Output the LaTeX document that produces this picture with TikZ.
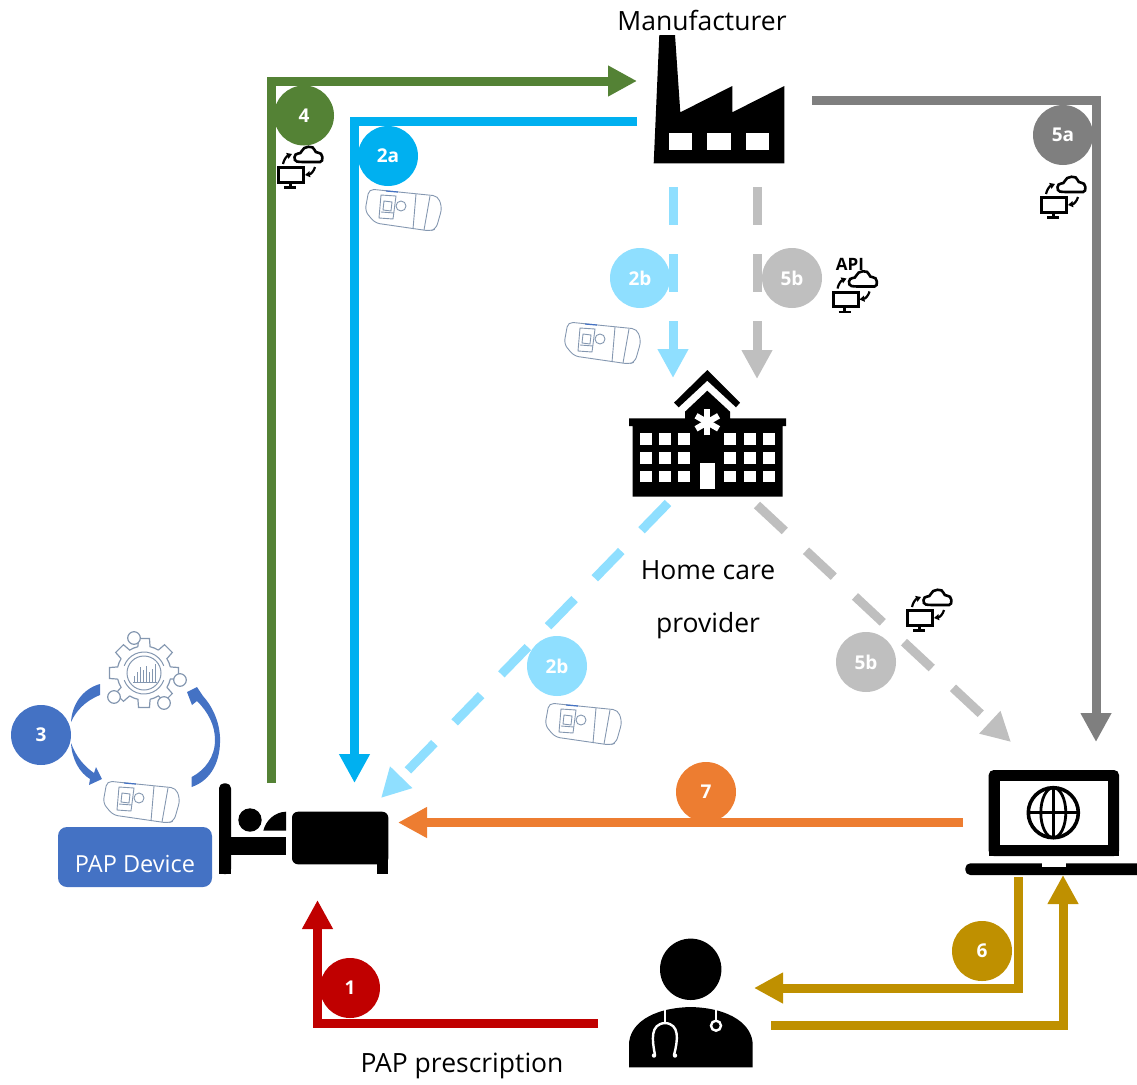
\documentclass[tikz,border=0pt]{standalone}
\usepackage{fontspec}
\setmainfont{Open Sans}
\usetikzlibrary{arrows.meta}
\definecolor{grn}{HTML}{548235}
\definecolor{sky}{HTML}{00B0F0}
\definecolor{lsky}{HTML}{8FDFFF}
\definecolor{gry}{HTML}{7F7F7F}
\definecolor{lgry}{HTML}{BFBFBF}
\definecolor{rd}{HTML}{C00000}
\definecolor{gld}{HTML}{BF9000}
\definecolor{org}{HTML}{ED7D31}
\definecolor{stl}{HTML}{4472C4}
\definecolor{devc}{HTML}{8497B0}
\tikzset{
  flow/.style={line width=9pt,-{Triangle[length=29pt,width=29pt]}},
  dashflow/.style={flow,dash pattern=on 38pt off 29pt},
  num/.style={circle,minimum size=60pt,inner sep=0pt,text=white,font=\fontsize{19}{22}\selectfont\bfseries},
  lbl/.style={inner sep=0pt,font=\fontsize{26.5}{30}\selectfont},
  sync/.pic={
    \draw[line width=3pt] (-21.5,0.5) rectangle (3.5,15);
    \draw[line width=3pt] (-10,15) -- (-10,20);
    \draw[line width=2.6pt] (-16,20.5) -- (-4,20.5);
    \draw[line width=2.6pt,rounded corners=3pt] (0,-5) .. controls (-7,-6) and (-6,-14) .. (1,-13) .. controls (3,-21) and (14,-22) .. (15,-14) .. controls (23,-15) and (24,-5) .. (17,-5) -- cycle;
    \draw[line width=2.2pt,-{Triangle[length=5pt,width=6pt]}] (-17,-3) .. controls (-16,-8) and (-13,-11) .. (-8,-13);
    \draw[line width=2.2pt,-{Triangle[length=5pt,width=6pt]}] (15,0) .. controls (14,4) and (11,7) .. (5,8);
  },
  pap/.pic={
    \draw[devc,line width=0.9pt,rounded corners=5pt] (-34,-19) -- (35,-12) -- (39,0) -- (33,21) -- (27,23) -- (-28,15) -- (-38,3) -- cycle;
    \draw[devc,line width=0.9pt] (-22,-13) -- (-7,-12) -- (-10,11) -- (-24,10) -- cycle;
    \draw[devc,line width=0.9pt] (-19,-7) -- (-11,-6) -- (-12,3) -- (-20,2) -- cycle;
    \draw[devc,line width=0.9pt] (-22,4) -- (-9,5);
    \draw[devc,line width=0.9pt] (-2,-2) circle (5pt);
    \draw[devc,line width=0.9pt] (13,-14) -- (10,21);
    \draw[devc,line width=0.9pt] (27,-12) -- (21,22);
    \draw[stl,line width=1.2pt] (-17,-17) -- (-5,-16);
  },
  gearicon/.pic={
    \foreach \a in {0,45,...,315}
      \draw[devc,line width=1.2pt] (\a-13:27) -- (\a-9:35) -- (\a+9:35) -- (\a+13:27) arc[start angle=\a+13,end angle=\a+32,radius=27];
    \draw[devc,line width=1pt] (200:21) arc[start angle=200,end angle=340,radius=21];
    \draw[devc,line width=1pt] (20:21) arc[start angle=20,end angle=160,radius=21];
    \draw[devc,line width=1pt] (0,0) circle (17pt);
    \foreach \x/\h in {-9/6,-6/10,-3/15,0/12,3/16,6/10,9/13,12/18}
      \draw[devc,line width=0.9pt] (\x-1,9) -- (\x-1,9-\h);
    \draw[devc,line width=0.9pt] (-11,9) -- (13,9);
    \foreach \x/\y in {-10/-35,36/7,20/30,-30/24}
      \draw[devc,line width=1.2pt,fill=white] (\x,\y) circle (6.3pt);
  },
}
\begin{document}
\begin{tikzpicture}[line join=miter,x=1pt,y=-1pt]
\useasboundingbox (0,0) rectangle (1137,1084);
\coordinate (greenS) at (271,783);
\coordinate (greenE) at (637,81);
\coordinate (skyS) at (637,121.5);
\coordinate (skyE) at (354.5,783);
\coordinate (grayS) at (812,100);
\coordinate (grayE) at (1096,742);
\coordinate (lskyS) at (673,187);
\coordinate (lskyE) at (673,378);
\coordinate (lgryS) at (757,187);
\coordinate (lgryE) at (757,379);
\coordinate (lskyD) at (668,503);
\coordinate (lskyF) at (381,798);
\coordinate (lgryD) at (757,505);
\coordinate (lgryF) at (1011,742);
\coordinate (orgS) at (963,822.5);
\coordinate (orgE) at (398,822.5);
\coordinate (redS) at (598,1023);
\coordinate (redE) at (317.5,900);
\coordinate (goldS) at (1018.5,877);
\coordinate (goldE) at (754,988);
\coordinate (backS) at (771,1025);
\coordinate (backE) at (1063,875);

\draw [grn,flow] (greenS) |- (greenE);
\draw [sky,flow] (skyS) -| (skyE);
\draw [gry,flow] (grayS) -| (grayE);
\draw [lsky,dashflow] (lskyS) -- (lskyE);
\draw [lgry,dashflow] (lgryS) -- (lgryE);
\draw [lsky,dashflow] (lskyD) -- (lskyF);
\draw [lgry,dashflow] (lgryD) -- (lgryF);
\draw [org,flow] (orgS) -- (orgE);
\draw [rd,flow] (redS) -| (redE);
\draw [gld,flow] (goldS) |- (goldE);
\draw [gld,flow] (backS) -| (backE);

\node [num,fill=grn] (n4) at (304,115.5) {4};
\node [num,fill=sky] (n2a) at (388,156) {2a};
\node [num,fill=gry] (n5a) at (1063,135) {5a};
\node [num,fill=lsky] (n2b) at (640,278) {2b};
\node [num,fill=lgry] (n5b) at (792,278) {5b};
\node [num,fill=lsky] (m2b) at (557,666) {2b};
\node [num,fill=lgry] (m5b) at (866,662) {5b};
\node [num,fill=stl] (n3) at (41,735) {3};
\node [num,fill=org] (n7) at (706,792) {7};
\node [num,fill=gld] (n6) at (982,951) {6};
\node [num,fill=rd] (n1) at (350,988) {1};

\node [lbl] (maker) at (702,20) {Manufacturer};
\node [lbl] (home) at (708,570) {Home care};
\node [lbl] (prov) at (708,626) {provider};
\node [lbl] (presc) at (462,1066) {PAP prescription};
\node [inner sep=0pt,font=\fontsize{17}{20}\selectfont\bfseries] (api) at (850,264) {API};
\node [fill=stl,rounded corners=9pt,minimum width=154pt,minimum height=60pt,inner sep=0pt] (papbox) at (135,857) {};
\node [inner sep=0pt,text=white,font=\fontsize{23.5}{26}\selectfont] (paptxt) at (135,864) {PAP Device};

\pic at (300,167) {sync};
\pic at (1063,197) {sync};
\pic at (854.5,291.5) {sync};
\pic at (929,610) {sync};
\pic at (403,208) {pap};
\pic at (602,341) {pap};
\pic at (583,722) {pap};
\pic at (141,800) {pap};
\pic at (144,673) {gearicon};

\fill [stl] (100,684) .. controls (82,689) and (72,705) .. (71,722) .. controls (76,711) and (85,701) .. (100,695) -- cycle;
\fill [stl] (71,743) .. controls (72,760) and (80,773) .. (90,779) -- (89,785) -- (102,779) -- (96,767) -- (94,773) .. controls (85,767) and (76,757) .. (71,743) -- cycle;
\fill [stl] (191.7,787) .. controls (212,780) and (221,760) .. (220,737) .. controls (219,720) and (212,706) .. (203,696) -- (197,687) -- (187,692) -- (192,705) -- (197,701) .. controls (208,712) and (215,725) .. (215,740) .. controls (215,757) and (205,770) .. (191.7,777) -- cycle;

\fill (653.7,163.3) -- (659.3,35) -- (675,35) -- (680.3,112.3) -- (732.3,86) -- (732.3,112.3) -- (784.3,86) -- (784.3,163.3) -- cycle;
\foreach \x in {669,707.3,745.7}
  \fill [white] (\x,133.3) rectangle (\x+23.3,150);

\fill (674,402.7) -- (707.3,370) -- (740,402.7) -- (736,407.3) -- (707.3,380.7) -- (678.7,407.3) -- cycle;
\fill (685,411.7) -- (707.3,390.7) -- (730,411.7) -- (730,418.3) -- (786,418.3) -- (786,426) -- (782.7,426) -- (782.7,496.7) -- (632.7,496.7) -- (632.7,426) -- (629,426) -- (629,418.3) -- (685,418.3) -- cycle;
\foreach \x in {640,659.3,678.3,724.3,743.7,762.7}
  \foreach \y in {433.3,452,470.7}
    \fill [white] (\x,\y) rectangle (\x+12,\y+11.7);
\fill [white] (699.7,463.3) rectangle (715.3,489.3);
\foreach \a in {90,30,-30}
  \draw [white,line width=6pt] ([shift={(\a:13)}]707.3,422.3) -- ([shift={(\a+180:13)}]707.3,422.3);

\fill [rounded corners=5pt] (219,874) -- (219,783.3) -- (231,783.3) -- (231,874) -- cycle;
\fill (225,836.7) rectangle (286,855);
\fill (219,860) rectangle (231,874);
\fill (250,820) circle (11.7pt);
\fill (263.3,830.7) .. controls (266,820) and (275,812) .. (286,811.7) -- (286,830.7) -- cycle;
\fill [rounded corners=6pt] (292,811.7) -- (388.3,811.7) -- (388.3,864.3) -- (292,864.3) -- cycle;
\fill (376.7,850) rectangle (388.3,874);

\fill [rounded corners=5pt] (988.7,856) -- (988.7,770) -- (1119,770) -- (1119,856) -- cycle;
\fill (988.7,846) rectangle (1119,856);
\fill [white] (1000,781.3) rectangle (1107.7,845);
\draw [line width=3.6pt] (1053.3,812.7) circle (25pt);
\draw [line width=2.8pt] (1053.3,812.7) ellipse (12.5pt and 25pt);
\draw [line width=2.8pt] (1028,812.7) -- (1079,812.7);
\draw [line width=2.8pt] (1053.3,788) -- (1053.3,838);
\fill [rounded corners=5pt] (965.3,863.3) -- (965.3,875) -- (1150,875) -- (1150,863.3) -- cycle;
\fill [white] (1041.7,862) rectangle (1066,867);

\fill (690.7,969.3) circle (30.7pt);
\fill (629,1067.3) -- (629,1045) .. controls (629,1025) and (650,1008) .. (690.7,1007) .. controls (731,1008) and (752.7,1025) .. (752.7,1045) -- (752.7,1067.3) -- cycle;
\draw [white,line width=2.4pt] (665,1009) -- (665,1023);
\draw [white,line width=2.4pt,line cap=round] (655,1055) .. controls (652,1040) and (650,1024) .. (665,1023) .. controls (680,1024) and (678,1040) .. (674,1055);
\fill [white] (654,1055.5) circle (2.2pt);
\fill [white] (675,1055.5) circle (2.2pt);
\draw [white,line width=2.4pt] (716,1009) -- (716,1020);
\draw [white,line width=2.4pt] (716,1025.7) circle (5pt);
\end{tikzpicture}
\end{document}
